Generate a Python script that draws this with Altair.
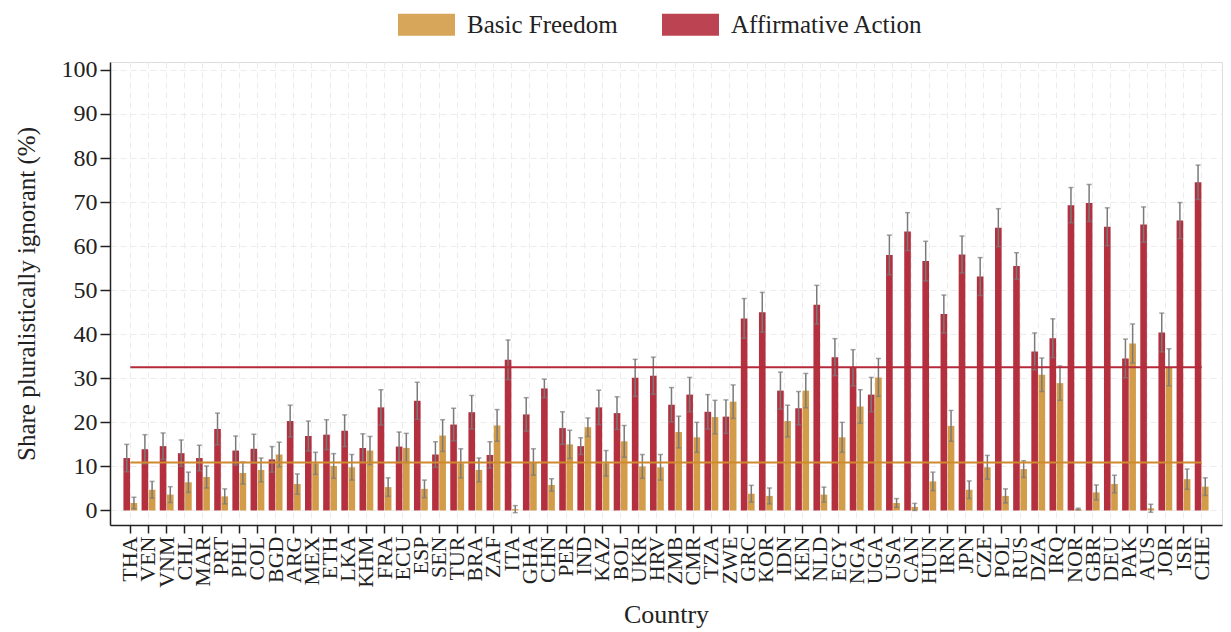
import altair as alt
import pandas as pd

countries = ["THA","VEN","VNM","CHL","MAR","PRT","PHL","COL","BGD","ARG","MEX","ETH","LKA","KHM",
             "FRA","ECU","ESP","SEN","TUR","BRA","ZAF","ITA","GHA","CHN","PER","IND","KAZ","BOL",
             "UKR","HRV","ZMB","CMR","TZA","ZWE","GRC","KOR","IDN","KEN","NLD","EGY","NGA","UGA",
             "USA","CAN","HUN","IRN","JPN","CZE","POL","RUS","DZA","IRQ","NOR","GBR","DEU","PAK",
             "AUS","JOR","ISR","CHE"]

affirmative = [11.9,13.9,14.6,13.0,11.9,18.5,13.6,14.0,11.6,20.3,16.9,17.2,18.1,14.2,
               23.4,14.5,24.9,12.7,19.5,22.3,12.6,34.2,21.8,27.7,18.7,14.6,23.4,22.1,
               30.1,30.6,24.0,26.3,22.4,21.3,43.6,45.0,27.2,23.2,46.7,34.8,32.4,26.3,
               58.0,63.3,56.6,44.6,58.1,53.1,64.2,55.5,36.1,39.1,69.3,69.8,64.4,34.5,
               64.9,40.4,65.8,74.5]
affirmative_err = [3.1,3.3,3.0,3.0,2.9,3.6,3.3,3.3,2.9,3.6,3.4,3.4,3.6,3.2,
                   4.0,3.3,4.2,2.9,3.7,3.8,3.0,4.5,3.8,2.1,3.7,1.9,3.9,3.7,
                   4.2,4.2,3.9,3.9,3.9,3.8,4.5,4.5,4.2,3.8,4.4,4.2,4.1,3.9,
                   4.5,4.3,4.5,4.3,4.2,4.3,4.3,3.0,4.2,4.4,4.0,4.2,4.3,4.4,
                   4.0,4.4,4.1,3.9]
basic = [1.7,4.7,3.6,6.4,7.6,3.2,8.5,9.2,12.7,6.0,10.7,10.1,9.8,13.6,
         5.3,14.2,4.9,17.0,10.7,9.2,19.3,0.3,11.0,5.8,15.0,18.9,10.7,15.7,
         10.0,9.8,17.8,16.6,21.2,24.7,3.8,3.3,20.3,27.2,3.6,16.6,23.6,30.2,
         1.7,0.8,6.6,19.2,4.7,9.8,3.3,9.4,30.8,28.9,0.3,4.1,6.0,37.9,
         0.5,32.5,7.1,5.4]
basic_err = [1.3,1.9,1.8,2.3,2.5,1.7,2.5,2.7,2.8,2.3,2.5,2.8,2.9,3.2,
             2.1,3.3,2.0,3.6,3.3,2.7,3.6,0.8,3.0,1.4,3.2,2.1,2.9,3.6,
             2.7,2.9,3.6,3.4,3.8,3.8,1.9,1.8,3.6,3.9,1.7,3.4,3.8,4.3,
             1.0,0.8,2.1,3.5,2.0,2.7,1.6,1.9,3.8,3.9,0.2,1.7,2.0,4.4,
             0.9,4.2,2.3,2.0]

series_names = ["Basic Freedom", "Affirmative Action"]
series_colors = ["#D39C48", "#B5303F"]
mean_affirmative = 32.5
mean_basic = 10.9

rows = []
for i, c in enumerate(countries):
    rows.append({"country": c, "series": "Affirmative Action", "value": affirmative[i],
                 "lo": affirmative[i] - affirmative_err[i], "hi": affirmative[i] + affirmative_err[i]})
    rows.append({"country": c, "series": "Basic Freedom", "value": basic[i],
                 "lo": basic[i] - basic_err[i], "hi": basic[i] + basic_err[i]})
df = pd.DataFrame(rows)

mean_df = pd.DataFrame({
    "country": [countries[0], countries[-1], countries[0], countries[-1]],
    "line": ["aa", "aa", "bf", "bf"],
    "value": [mean_affirmative, mean_affirmative, mean_basic, mean_basic],
})

FONT = "Liberation Serif"
INK = "#222222"

x_enc = alt.X("country:N", sort=countries,
              scale=alt.Scale(paddingInner=0, paddingOuter=0.62),
              axis=alt.Axis(title="Country", labelAngle=-90, labelFontSize=22,
                            labelColor=INK, titleFontSize=26, titleFontWeight="normal",
                            titleColor=INK, titlePadding=14,
                            tickSize=8, tickColor=INK, tickWidth=1.5,
                            domainColor=INK, domainWidth=1.5,
                            grid=True, gridColor="#ececec", gridDash=[6, 4],
                            labelOverlap=False, labelPadding=3))
y_scale = alt.Scale(domain=[-3.3, 101.8], nice=False, zero=False)
y_axis = alt.Axis(title="Share pluralistically ignorant (%)", values=list(range(0, 101, 10)),
                  labelFontSize=24, labelColor=INK, titleFontSize=25,
                  titleFontWeight="normal", titleColor=INK, titlePadding=22,
                  tickSize=10, tickColor=INK, tickWidth=1.5,
                  domainColor=INK, domainWidth=1.5,
                  grid=True, gridColor="#ececec", gridDash=[6, 4], labelPadding=3)
xoff = alt.XOffset("series:N", sort=["Affirmative Action", "Basic Freedom"],
                   scale=alt.Scale(paddingInner=0.08, paddingOuter=0.3))

base = alt.Chart(df)

bars = base.mark_bar().encode(
    x=x_enc,
    xOffset=xoff,
    y=alt.Y("value:Q", scale=y_scale, axis=y_axis),
    color=alt.Color("series:N",
                    scale=alt.Scale(domain=series_names, range=series_colors),
                    legend=alt.Legend(title=None, orient="none", legendX=302, legendY=-52,
                                      direction="horizontal",
                                      symbolType="M-2,-0.772H2V0.772H-2Z",
                                      symbolSize=812, symbolOpacity=0.9,
                                      symbolStrokeWidth=0,
                                      labelFontSize=25, labelColor=INK, labelLimit=0,
                                      labelOffset=26, columnPadding=44)),
)

err = base.mark_rule(color="#7a7a7a", strokeWidth=1.5).encode(
    x=alt.X("country:N", sort=countries),
    xOffset=xoff,
    y=alt.Y("lo:Q", scale=y_scale),
    y2="hi:Q",
)
cap_hi = base.mark_tick(color="#7a7a7a", thickness=1.5, size=5, orient="horizontal").encode(
    x=alt.X("country:N", sort=countries),
    xOffset=xoff,
    y=alt.Y("hi:Q", scale=y_scale),
)
cap_lo = base.mark_tick(color="#7a7a7a", thickness=1.5, size=5, orient="horizontal").encode(
    x=alt.X("country:N", sort=countries),
    xOffset=xoff,
    y=alt.Y("lo:Q", scale=y_scale),
)

aa_line = alt.Chart(mean_df).transform_filter(alt.datum.line == "aa").mark_line(
    color="#B52A3A", strokeWidth=2).encode(
    x=alt.X("country:N", sort=countries), y=alt.Y("value:Q", scale=y_scale))
bf_line = alt.Chart(mean_df).transform_filter(alt.datum.line == "bf").mark_line(
    color="#D08A2E", strokeWidth=2).encode(
    x=alt.X("country:N", sort=countries), y=alt.Y("value:Q", scale=y_scale))

chart = alt.layer(bars, err, cap_hi, cap_lo, aa_line, bf_line).properties(
    width=1112, height=463,
    padding={"left": 14, "top": 10, "right": 6, "bottom": 2},
    background="white",
).configure_view(stroke=None).configure(font=FONT)

chart.save("out.html", embed_options={"renderer": "svg", "actions": False})
